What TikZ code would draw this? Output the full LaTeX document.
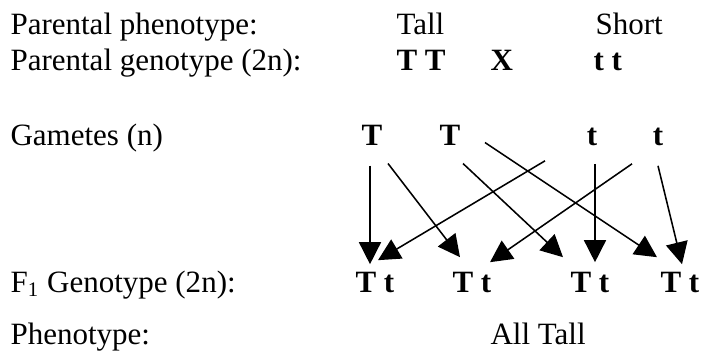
\documentclass[tikz,border=0pt]{standalone}
\usepackage{fontspec}
\setmainfont{Liberation Serif}
\usetikzlibrary{arrows.meta,calc}
\tikzset{
  lbl/.style={anchor=base west, inner sep=0pt, font=\fontsize{12}{14}\selectfont},
  gene/.style={lbl, font=\fontsize{12}{14}\selectfont\bfseries},
  gamete/.style={gene, anchor=base},
  cross/.style={-{Triangle[length=8.5pt,width=8.5pt]}, line width=0.6pt}
}
\begin{document}
\begin{tikzpicture}[x=0.387pt,y=-0.387pt]
  \useasboundingbox (0,0) rectangle (701,353);
  % row labels
  \node[lbl] (pheno) at (10,34) {Parental phenotype:};
  \node[lbl] (geno) at (10,70) {Parental genotype (2n):};
  \node[lbl] (gam) at (10,145) {Gametes (n)};
  \node[lbl] (fgeno) at (10,292) {F\textsubscript{1} Genotype (2n):};
  \node[lbl] (fpheno) at (10,344) {Phenotype:};
  % parents
  \node[lbl] (tall) at (396,34) {Tall};
  \node[lbl] (short) at (595,34) {Short};
  \node[gene] (TT) at (396,70) {T T};
  \node[gene] (x) at (490,70) {X};
  \node[gene] (tt) at (593,70) {t t};
  % gametes
  \node[gamete] (g1) at (372,145) {T};
  \node[gamete] (g2) at (450,145) {T};
  \node[gamete] (g3) at (592,145) {t};
  \node[gamete] (g4) at (658,145) {t};
  % offspring
  \node[gene] (f1) at (355,292) {T t};
  \node[gene] (f2) at (452,292) {T t};
  \node[gene] (f3) at (570,292) {T t};
  \node[gene] (f4) at (660,292) {T t};
  \node[lbl] (all) at (490,344) {All Tall};
  % crosses
  \draw[cross] ($(g1.south)+(-2,20)$) -- ($(f1.north west)+(15,-7)$);
  \draw[cross] ($(g1.south)+(16,18)$) -- ($(f2.north west)+(8,-14)$);
  \draw[cross] ($(g3.south)+(-47,15)$) -- ($(f1.north west)+(23,-11)$);
  \draw[cross] ($(g2.south)+(13,18)$) -- ($(f3.north west)+(-7,-14)$);
  \draw[cross] ($(g2.south)+(35,-3)$) -- ($(f4.north west)+(-3,-14)$);
  \draw[cross] ($(g3.south)+(3,18)$) -- ($(f3.north west)+(25,-9)$);
  \draw[cross] ($(g4.south)+(-26,18)$) -- ($(f2.north west)+(38,-9)$);
  \draw[cross] ($(g4.south)+(0,20)$) -- ($(f4.north west)+(22,-7)$);
\end{tikzpicture}
\end{document}
